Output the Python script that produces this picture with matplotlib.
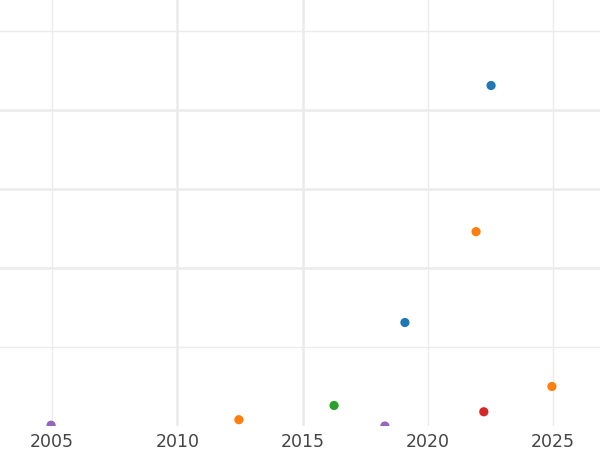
import numpy as np
import matplotlib
matplotlib.use("Agg")
import matplotlib.pyplot as plt

# values (y in gridline units, bottom = 0)
years = [2022.53, 2021.93, 2019.09, 2024.96, 2016.26, 2022.24, 2012.46, 2004.96, 2018.29]
values = [4.31, 2.46, 1.31, 0.50, 0.26, 0.18, 0.08, 0.01, 0.0]
colors = ["#1f77b4", "#ff7f0e", "#1f77b4", "#ff7f0e", "#2ca02c",
          "#d62728", "#ff7f0e", "#9467bd", "#9467bd"]
xticks = [2005, 2010, 2015, 2020, 2025]
yticks = [1, 2, 3, 4, 5]

fig = plt.figure(figsize=(6, 4.5), dpi=100)
ax = fig.add_axes([0, 1 - 426 / 450, 1, 426 / 450])

ax.scatter(years, values, c=colors, s=44, linewidths=0, zorder=3)

ax.set_xlim(2002.92, 2026.88)
ax.set_ylim(0, 426 / 79)
ax.set_xticks(xticks)
ax.set_yticks(yticks)
ax.set_yticklabels([])
ax.tick_params(axis="both", length=0)
ax.tick_params(axis="x", labelsize=12.5, labelcolor="#444444", pad=5)
for s in ax.spines.values():
    s.set_visible(False)

ax.grid(True, color="#ebebeb", zorder=0)
ax.set_axisbelow(True)
xw = [1.0, 1.8, 1.8, 1.0, 1.0]
for line, w in zip(ax.get_xgridlines(), xw):
    line.set_linewidth(w)
yw = [1.0, 1.8, 1.8, 1.8, 1.0]
for line, w in zip(ax.get_ygridlines(), yw):
    line.set_linewidth(w)

fig.savefig("out.png", dpi=100)
